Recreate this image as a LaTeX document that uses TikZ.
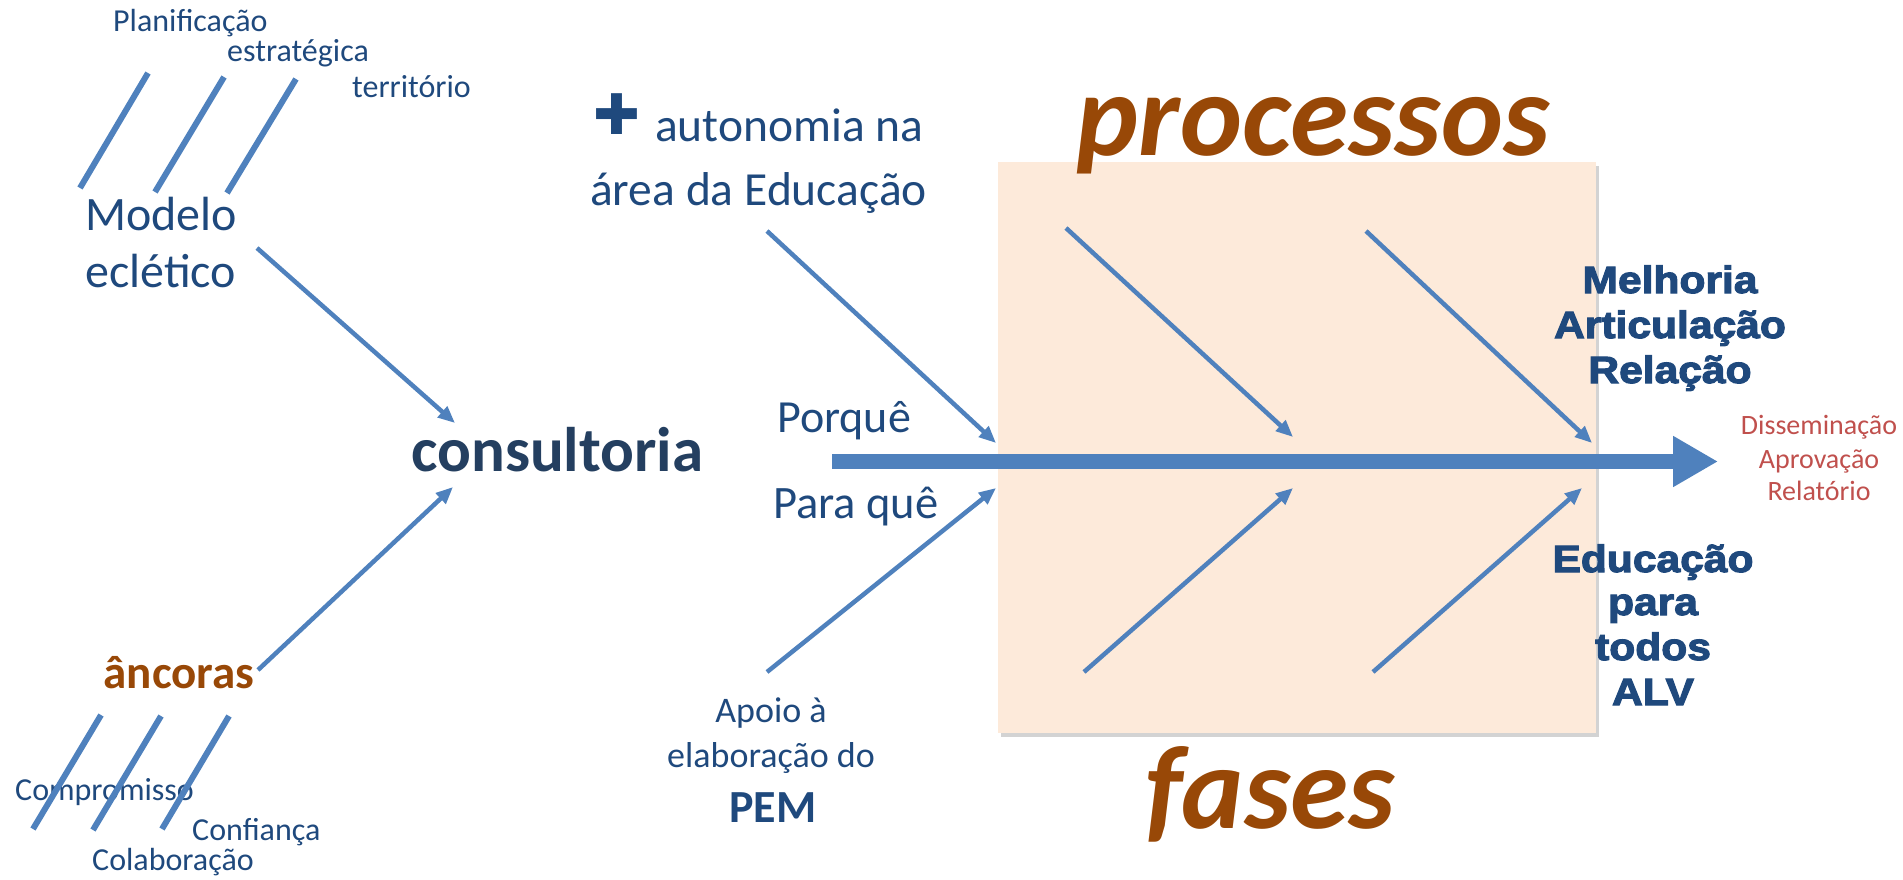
\documentclass[tikz,border=0pt]{standalone}
\usepackage{fontspec}
\setmainfont{Carlito}
\newfontfamily\blackfont{Liberation Sans}[BoldFeatures={FakeBold=3,FakeStretch=1.12}]
\newfontfamily\symfont{DejaVu Sans}
\usetikzlibrary{arrows.meta,shadows}
\definecolor{tblue}{HTML}{1F497D}
\definecolor{cblue}{HTML}{243F60}
\definecolor{ablue}{HTML}{4F81BD}
\definecolor{tbrown}{HTML}{984807}
\definecolor{tred}{HTML}{C0504D}
\definecolor{peach}{HTML}{FDEADA}
\tikzset{
  txt/.style={inner sep=0pt, text=tblue},
  fs/.style={font=\fontsize{#1}{#1}\selectfont},
  blk/.style={inner sep=0pt, text=tblue, font=\fontsize{38}{38}\selectfont\blackfont\bfseries, anchor=base},
  redt/.style={inner sep=0pt, text=tred, font=\fontsize{28}{28}\selectfont, anchor=base},
  branch/.style={draw=ablue, line width=4.5pt, -{Triangle[length=17pt,width=14pt]}},
  tick/.style={draw=ablue, line width=6pt},
  spine/.style={draw=ablue, line width=15pt, -{Triangle[length=45pt,width=48pt]}},
}
\begin{document}
\begin{tikzpicture}[x=1pt,y=-1pt]
\useasboundingbox (0,0) rectangle (1903,880);
% box
\node[draw=none, fill=peach, inner sep=0pt, minimum width=598pt, minimum height=571pt, anchor=north west,
  drop shadow={shadow xshift=3pt, shadow yshift=-4pt, opacity=0.35}] (box) at (998,162) {};
% left top: Modelo eclético
\node[txt, fs=32, anchor=base west] (plan) at (113,32) {Planificação};
\node[txt, fs=32, anchor=base west] (estr) at (227,62) {estratégica};
\node[txt, fs=32, anchor=base west] (terr) at (352,98) {território};
\node[txt, fs=48, anchor=base west] (mod1) at (85,230) {Modelo};
\node[txt, fs=48, anchor=base west] (mod2) at (85,287) {eclético};
\coordinate (t1a) at (80,188); \coordinate (t1b) at (148,73);
\coordinate (t2a) at (155,192); \coordinate (t2b) at (224,77);
\coordinate (t3a) at (227,193); \coordinate (t3b) at (296,79);
\draw[tick] (t1a) -- (t1b);
\draw[tick] (t2a) -- (t2b);
\draw[tick] (t3a) -- (t3b);
% left bottom: âncoras
\node[inner sep=0pt, text=tbrown, font=\fontsize{47}{47}\selectfont\bfseries, anchor=base] (anc) at (179,688) {âncoras};
\node[txt, fs=32, anchor=base west] (comp) at (15,800) {Compromisso};
\node[txt, fs=32, anchor=base west] (conf) at (192,840) {Confiança};
\node[txt, fs=32, anchor=base west] (cola) at (92,870) {Colaboração};
\coordinate (b1a) at (101,715); \coordinate (b1b) at (33,829);
\coordinate (b2a) at (161,716); \coordinate (b2b) at (93,830);
\coordinate (b3a) at (229,716); \coordinate (b3b) at (162,829);
\draw[tick] (b1a) -- (b1b);
\draw[tick] (b2a) -- (b2b);
\draw[tick] (b3a) -- (b3b);
% consultoria
\node[inner sep=0pt, text=cblue, font=\fontsize{63}{63}\selectfont\bfseries, anchor=base west] (cons) at (411,471) {consultoria};
\coordinate (ma) at (257,248); \coordinate (mb) at (455,423);
\coordinate (aa) at (258,670); \coordinate (ab) at (453,487);
\draw[branch] (ma) -- (mb);
\draw[branch] (aa) -- (ab);
% autonomia
\node[inner sep=0pt, text=tblue, font=\fontsize{56}{56}\selectfont\symfont, anchor=center] (plus) at (617,114) {✚};
\node[txt, fs=47.5, anchor=base west] (aut1) at (655,142) {autonomia na};
\node[txt, fs=47.5, anchor=base west] (aut2) at (590,205) {área da Educação};
\node[txt, fs=46, anchor=base west] (porq) at (777,432) {Porquê};
\node[txt, fs=46.5, anchor=base west] (paraq) at (773,518) {Para quê};
\node[txt, fs=36, anchor=base] (apo1) at (771,722) {Apoio à};
\node[txt, fs=36, anchor=base] (apo2) at (771,767) {elaboração do};
\node[txt, font=\fontsize{46}{46}\selectfont\bfseries, anchor=base] (pem) at (773,822) {PEM};
\coordinate (ua) at (767,231); \coordinate (ub) at (996,443);
\coordinate (pa) at (767,672); \coordinate (pb) at (996,488);
\draw[branch] (ua) -- (ub);
\draw[branch] (pa) -- (pb);
% box branches
\coordinate (tla) at (1066,228); \coordinate (tlb) at (1293,437);
\coordinate (tra) at (1366,231); \coordinate (trb) at (1592,443);
\coordinate (bla) at (1084,672); \coordinate (blb) at (1293,488);
\coordinate (bra) at (1373,672); \coordinate (brb) at (1582,488);
\draw[branch] (tla) -- (tlb);
\draw[branch] (tra) -- (trb);
\draw[branch] (bla) -- (blb);
\draw[branch] (bra) -- (brb);
% spine
\coordinate (sa) at (832,461.5); \coordinate (sb) at (1718,461.5);
\draw[spine] (sa) -- (sb);
% titles
\node[inner sep=0pt, text=tbrown, font=\fontsize{118}{118}\selectfont\bfseries\itshape, anchor=base] (proc) at (1313,155) {processos};
\node[inner sep=0pt, text=tbrown, font=\fontsize{118}{118}\selectfont\bfseries\itshape, anchor=base] (fas) at (1270,828) {fases};
% right labels
\node[blk] (mel) at (1670,293) {Melhoria};
\node[blk] (art) at (1670,338) {Articulação};
\node[blk] (rel) at (1670,383) {Relação};
\node[blk] (edu) at (1653,572) {Educação};
\node[blk] (par) at (1653,615) {para};
\node[blk] (tod) at (1653,660) {todos};
\node[blk] (alv) at (1653,705) {ALV};
\node[redt] (dis) at (1819,434) {Disseminação};
\node[redt] (apr) at (1819,468) {Aprovação};
\node[redt] (rela) at (1819,500) {Relatório};
\end{tikzpicture}
\end{document}
